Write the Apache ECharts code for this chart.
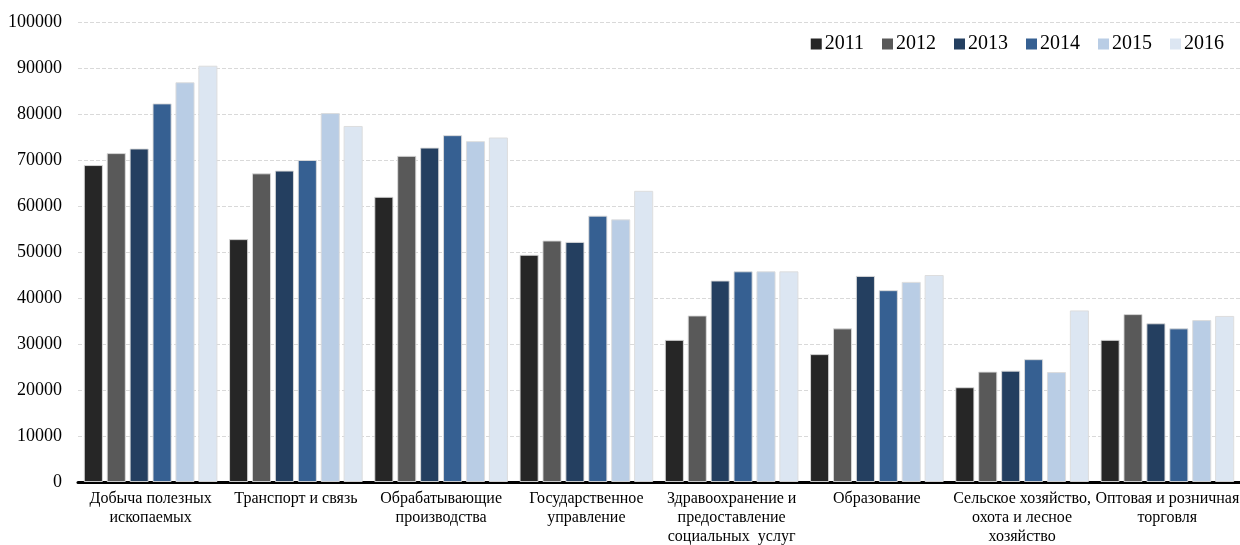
<!DOCTYPE html>
<html>
<head>
<meta charset="utf-8">
<script src="https://cdn.jsdelivr.net/npm/echarts@6/dist/echarts.min.js"></script>
<style>html,body{margin:0;padding:0;background:#fff}#c{width:1240px;height:545px}</style>
</head>
<body>
<div id="c"></div>
<script>
const categories = [
  'Добыча полезных\nископаемых',
  'Транспорт и связь',
  'Обрабатывающие\nпроизводства',
  'Государственное\nуправление',
  'Здравоохранение и\nпредоставление\nсоциальных  услуг',
  'Образование',
  'Сельское хозяйство,\nохота и лесное\nхозяйство',
  'Оптовая и розничная\nторговля'
];
const years = ['2011', '2012', '2013', '2014', '2015', '2016'];
const v2011 = [68900, 52800, 62000, 49400, 30900, 27800, 20600, 30900];
const v2012 = [71500, 67100, 70900, 52500, 36200, 33400, 24000, 36500];
const v2013 = [72500, 67700, 72700, 52200, 43800, 44800, 24200, 34500];
const v2014 = [82300, 70000, 75400, 57900, 45800, 41700, 26700, 33400];
const v2015 = [86900, 80200, 74100, 57100, 45800, 43500, 23900, 35200];
const v2016 = [90500, 77400, 74900, 63300, 45800, 45000, 37300, 36100];
const seriesValues = [v2011, v2012, v2013, v2014, v2015, v2016];
const colors = ['#262626', '#595959', '#243f60', '#366092', '#b9cde5', '#dce6f2'];
const font = '"Liberation Serif", "DejaVu Serif", serif';

const chart = echarts.init(document.getElementById('c'));
chart.setOption({
  animation: false,
  color: colors,
  legend: {
    right: 11, top: 29,
    itemWidth: 11, itemHeight: 11, itemGap: 18,
    icon: 'rect',
    itemStyle: { borderWidth: 0 },
    textStyle: { fontFamily: font, fontSize: 20, color: '#000', padding: [0, 0, 0, -2] },
    data: years
  },
  grid: { left: 78, right: 0, top: 22, bottom: 63, containLabel: false, outerBoundsMode: 'none' },
  xAxis: {
    type: 'category',
    data: categories,
    axisLine: { lineStyle: { color: '#000', width: 3 } },
    axisTick: { show: false },
    axisLabel: { interval: 0, fontFamily: font, fontSize: 16, color: '#000', lineHeight: 19, margin: 7 }
  },
  yAxis: {
    type: 'value', min: 0, max: 100000, interval: 10000,
    axisLine: { show: false }, axisTick: { show: false },
    axisLabel: { fontFamily: font, fontSize: 18, color: '#000', margin: 16, formatter: v => String(v) },
    splitLine: { lineStyle: { color: '#d9d9d9', type: 'dashed', width: 1 } }
  },
  series: years.map((y, i) => ({
    name: y, type: 'bar', data: seriesValues[i],
    barGap: '20%', barCategoryGap: '8%',
    itemStyle: { color: colors[i], borderColor: 'rgba(220,220,220,0.9)', borderWidth: 1 }
  }))
});
</script>
</body>
</html>
